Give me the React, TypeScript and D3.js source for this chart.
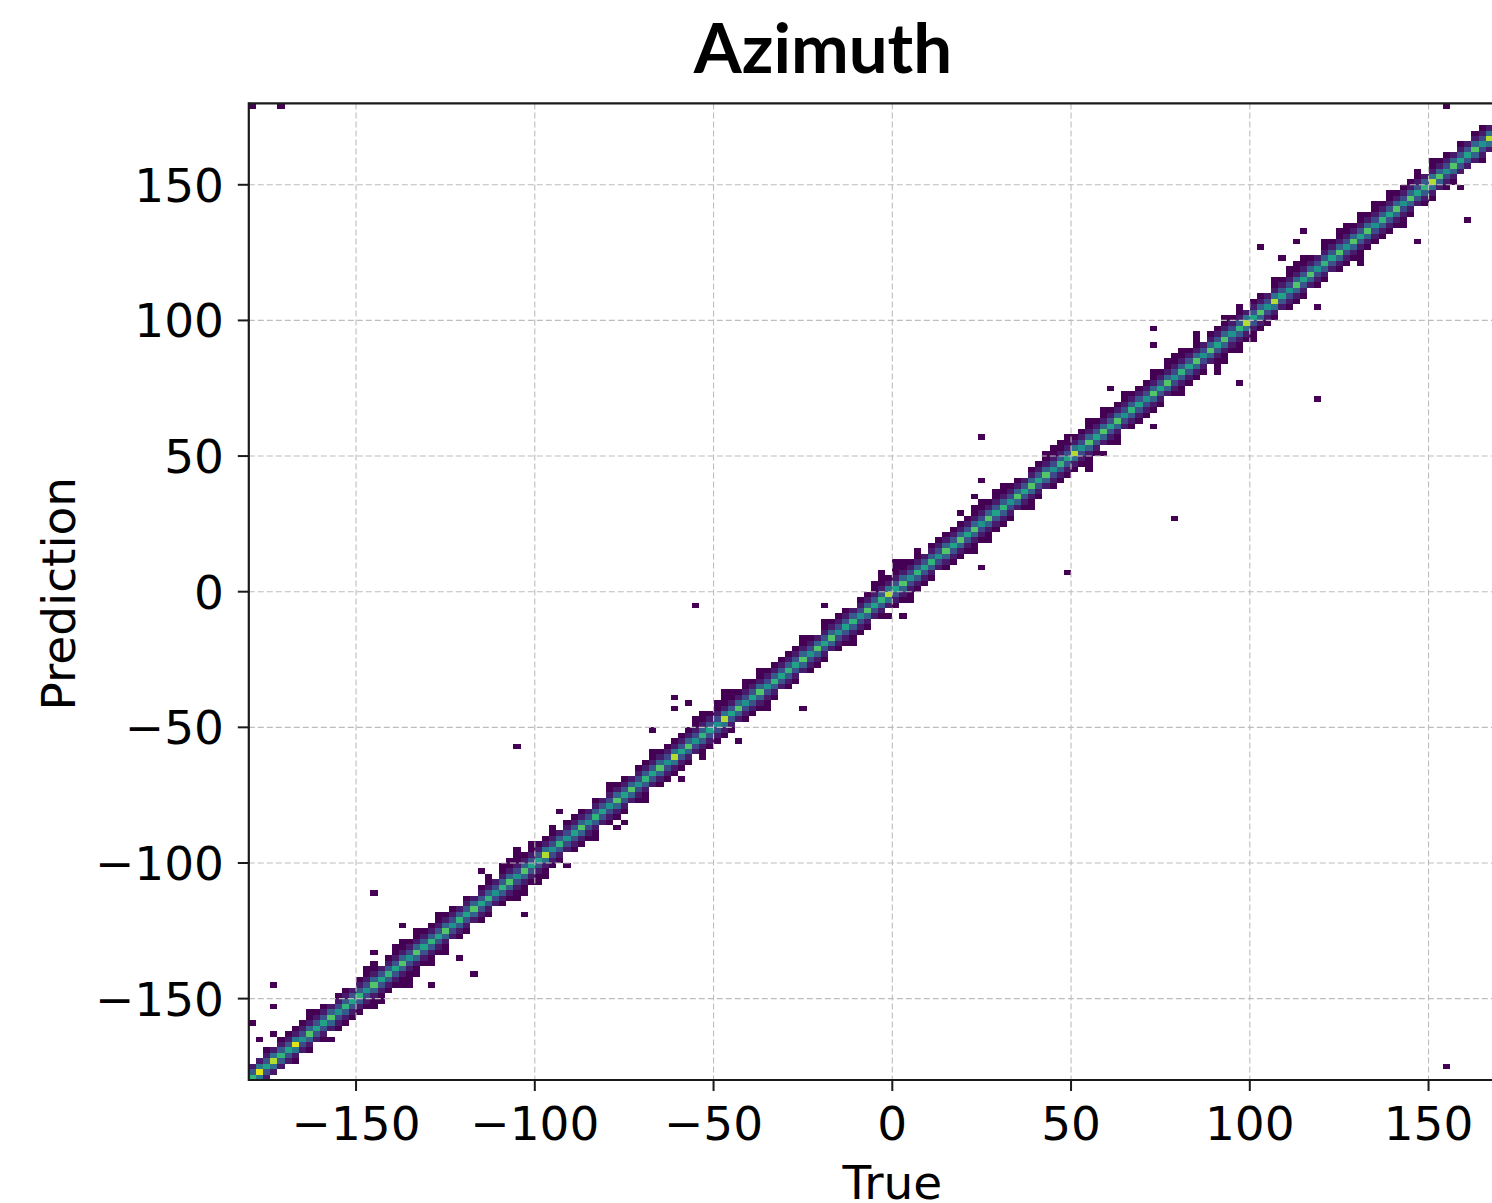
import React from 'react';
import * as d3 from 'd3';

const W = 1492;
const H = 1203;

const xTicks = [-150, -100, -50, 0, 50, 100, 150];
const yTicks = [-150, -100, -50, 0, 50, 100, 150];
const BIN = 2; // degrees per histogram bin
const NB = 180; // bins per axis

// Band extent above the diagonal (in bins), one digit per 2° column from -180 to 180
const bandHiGroups = ["22323","33343","32332","34423","44343","34332","32342","44534","33423","33232","43323","34333","33443","45434","34333","33432","43332","33443","54342","33333","34434","43323","34434","33434","33433","34343","43423","34342","33243","44432","43443","43434","33342","43323","23322","22322"];
// Band extent below the diagonal (in bins)
const bandLoGroups = ["22222","23232","32333","33343","34443","43423","32332","33443","34332","33342","33323","32333","33243","33323","33432","33233","32334","33232","33433","32333","34343","33234","32333","33432","34233","33323","43332","44343","43332","33323","32333","43333","33323","32332","22322","22222"];
// Density level of the diagonal cell (0-9)
const coreGroups = ["59485","49364","46354","53645","46364","54635","46453","56364","48353","46354","36463","54638","46354","38463","46354","54636","46345","36458","46354","53646","46364","53646","46354","83646","46354","36463","54636","46358","46384","36463","54636","46354","63645","86364","46384","45454"];

// Isolated single-count cells [true, prediction]
const outliers: [number, number][] = [
  [-179, 179], [-172, 179], [154, 179],
  [160.5, 137.5], [158, 148.5], [146.5, 129], [142, 135], [130.6, 121], [118.6, 104.8], [114, 133], [113, 129], [109, 123], [102.7, 127],
  [72.5, 97], [72.5, 91], [78, 87], [84.5, 95], [96.5, 77], [90.6, 81], [60.8, 75], [72.5, 61], [119, 71], [78.4, 27], [48.5, 7],
  [54.6, 45], [58.8, 51], [42.6, 51], [46.8, 54.7],
  [24.7, 57], [24.7, 41], [22.5, 35], [18.6, 29], [24.7, 9],
  [-3.5, 7.2], [-19, -5], [-19, -10.5], [-1.3, -9.7], [2.6, -8.6], [-55.2, -4.6],
  [-105, -57], [-61.4, -38.7], [-61.4, -43], [-57, -41], [-25.3, -43], [-43, -54.7], [-67, -50.6], [-59, -70], [-69, -76.7],
  [-77, -86.6], [-75, -85], [-83, -90.7], [-93, -80.6], [-91, -100.5], [-103, -118.6], [-114.7, -102.5], [-99, -107],
  [-145, -111], [-136.7, -122.7], [-145, -132.7], [-121, -135], [-116.9, -140.8], [-128.7, -144.8], [-134.8, -145.5],
  [-173, -146], [-173, -152.8], [-145, -154], [-179, -160], [-176.7, -164.7], [-172.7, -162.5], [-157, -164.3],
  [154.4, -174.7],
];

const bandHi = bandHiGroups.join('');
const bandLo = bandLoGroups.join('');
const core = coreGroups.join('');

const FONT = "'DejaVu Sans', sans-serif";

export default function App() {
  const x = d3.scaleLinear().domain([-180, 180]).range([248.8, 248.8 + 360 * 3.575]);
  const y = d3.scaleLinear().domain([-180, 180]).range([1080, 103.4]);

  type Cell = { i: number; j: number; t: number };
  const cellMap = new Map<string, Cell>();
  for (let i = 0; i < NB; i++) {
    const hi = +bandHi[i];
    const lo = +bandLo[i];
    const c = +core[i];
    for (let k = -lo; k <= hi; k++) {
      const j = i + k;
      if (j < 0 || j >= NB) continue;
      let t: number;
      const a = Math.abs(k);
      if (a === 0) t = 0.28 + 0.075 * c;
      else if (a === 1) t = 0.13 + 0.03 * c;
      else if (a === 2) t = 0.07;
      else t = 0;
      cellMap.set(i + ',' + j, { i, j, t });
    }
  }
  outliers.forEach(([tx, py]) => {
    const i = Math.min(NB - 1, Math.floor((tx + 180) / BIN));
    const j = Math.min(NB - 1, Math.floor((py + 180) / BIN));
    const key = i + ',' + j;
    if (!cellMap.has(key)) cellMap.set(key, { i, j, t: 0 });
  });
  const cells = Array.from(cellMap.values());

  const left = x(-180);
  const right = x(180);
  const top = y(180);
  const bottom = y(-180);
  const fmt = (v: number) => (v < 0 ? '\u2212' + Math.abs(v) : String(v));

  return (
    <svg width={W} height={H} style={{ position: 'absolute', left: 0, top: 0, background: '#fff' }}>
      <defs>
        <clipPath id="plot">
          <rect x={left} y={top} width={right - left} height={bottom - top} />
        </clipPath>
      </defs>
      <g clipPath="url(#plot)">
        {cells.map((c, idx) => {
          const x0 = -180 + c.i * BIN;
          const y0 = -180 + c.j * BIN;
          return (
            <rect
              key={idx}
              x={x(x0)}
              y={y(y0 + BIN)}
              width={x(x0 + BIN) - x(x0)}
              height={y(y0) - y(y0 + BIN)}
              fill={d3.interpolateViridis(c.t)}
              shapeRendering="crispEdges"
            />
          );
        })}
      </g>
      {/* grid */}
      <g stroke="#bdbdbd" strokeWidth={1.1} strokeDasharray="6 3" fill="none">
        {xTicks.map((v) => (
          <line key={'gx' + v} x1={x(v)} x2={x(v)} y1={top} y2={bottom} />
        ))}
        {yTicks.map((v) => (
          <line key={'gy' + v} x1={left} x2={W + 10} y1={y(v)} y2={y(v)} />
        ))}
      </g>
      {/* spines */}
      <g stroke="#1a1a1a" strokeWidth={2.2} fill="none">
        <line x1={left} x2={left} y1={top - 1.1} y2={bottom + 1.1} />
        <line x1={left} x2={W + 10} y1={top} y2={top} />
        <line x1={left} x2={W + 10} y1={bottom} y2={bottom} />
      </g>
      {/* ticks */}
      <g stroke="#1a1a1a" strokeWidth={2}>
        {xTicks.map((v) => (
          <line key={'tx' + v} x1={x(v)} x2={x(v)} y1={bottom} y2={bottom + 11} />
        ))}
        {yTicks.map((v) => (
          <line key={'ty' + v} x1={left - 11} x2={left} y1={y(v)} y2={y(v)} />
        ))}
      </g>
      <g fontFamily={FONT} fontSize={47} fill="#000">
        {xTicks.map((v) => (
          <text key={'lx' + v} x={x(v)} y={1140} textAnchor="middle">
            {fmt(v)}
          </text>
        ))}
        {yTicks.map((v) => (
          <text key={'ly' + v} x={224} y={y(v) + 17} textAnchor="end">
            {fmt(v)}
          </text>
        ))}
        <text x={x(0)} y={1199} textAnchor="middle">True</text>
        <text transform={`translate(75, ${y(0) + 2}) rotate(-90)`} textAnchor="middle">Prediction</text>
      </g>
      <text
        x={823}
        y={73}
        textAnchor="middle"
        fontFamily="Lato, 'Open Sans', sans-serif"
        fontWeight="bold"
        fontSize={69}
        fill="#000"
      >
        Azimuth
      </text>
    </svg>
  );
}
